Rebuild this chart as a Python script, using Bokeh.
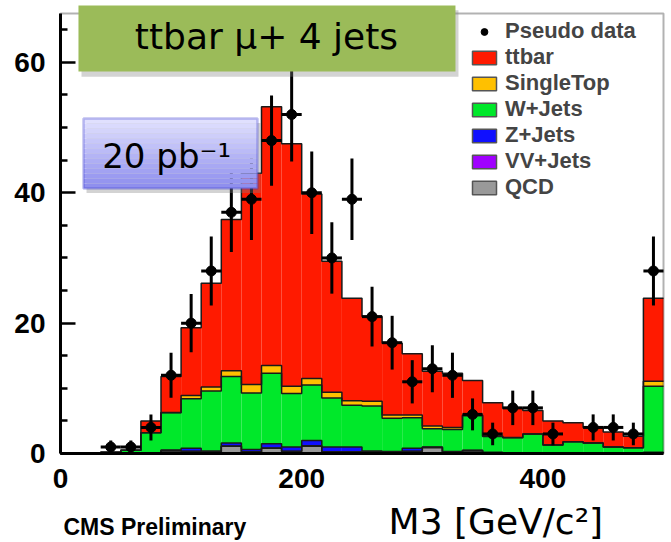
import numpy as np
from bokeh.plotting import figure
from bokeh.models import Range1d, FixedTicker, Legend, LegendItem, BoxAnnotation, Label
from bokeh.embed import file_html
from bokeh.resources import INLINE

# ---- data (30 bins of M3 from 0 to 500 GeV/c^2) ----
x_min, x_max, n_bins = 0.0, 500.0, 30
y_max = 67.5
pseudo_data = [0, 0, 1, 1, 4, 12, 20, 28, 37, 39, 48, 52, 40, 30, 39, 21, 17, 11, 13, 12,
               6, 3, 7, 7, 3, 0, 4, 4, 3, 28]
qcd = [0, 0, 0, 0, 0, 0.4, 0.3, 0.2, 1.1, 0.2, 0.8, 0.3, 1.1, 0.2, 0.2, 0.2, 0.2, 0.3, 0.9, 0.2,
       0.4, 0.1, 0.05, 0.05, 0, 0, 0, 0, 0, 0.1]
vv_jets = [0, 0, 0, 0, 0, 0.05, 0.05, 0.05, 0.05, 0.05, 0.05, 0.05, 0.1, 0.05, 0.05, 0.05, 0.05, 0.05, 0.05, 0.05,
           0.05, 0, 0, 0, 0, 0, 0, 0, 0, 0]
z_jets = [0, 0, 0, 0, 0, 0.1, 0.45, 0.15, 0.45, 0.35, 0.65, 0.65, 0.8, 0.75, 0.75, 0.15, 0.05, 0.45, 0.05, 0.05,
          0.05, 0.1, 0.05, 0.05, 0, 0, 0, 0, 0, 0.1]
w_jets = [0, 0, 0.2, 0.5, 3.2, 5.7, 7.6, 9.2, 10.2, 8.7, 10.8, 8.2, 8.5, 7.5, 6.4, 6.9, 5.1, 4.7, 2.8, 3.4,
          5.3, 2.4, 2.3, 2.9, 1.3, 1.8, 1.6, 1.0, 0.9, 10.1]
single_top = [0, 0, 0, 0, 0, 0.05, 0.5, 0.6, 0.9, 1.3, 1.2, 1.1, 1.0, 0.9, 0.7, 0.7, 0.5, 0.4, 0.4, 0.3,
              0.1, 0.1, 0.05, 0, 0, 0, 0, 0, 0, 0.8]
ttbar = [0, 0, 0, 0, 1.8, 5.5, 10.4, 15.9, 23.2, 32.4, 39.7, 37.2, 28.3, 20.1, 15.7, 13.0, 11.0, 9.4, 8.4, 8.3,
         5.3, 5.1, 4.5, 3.6, 3.7, 2.9, 2.4, 2.3, 1.75, 12.7]
x_ticks = [0, 200, 400]
y_ticks = [0, 20, 40, 60]
y_minor = [5, 10, 15, 25, 30, 35, 45, 50, 55, 65]

layers = [
    ("QCD", qcd, "#999999"),
    ("VV+Jets", vv_jets, "#A000FF"),
    ("Z+Jets", z_jets, "#1010FF"),
    ("W+Jets", w_jets, "#00E82A"),
    ("SingleTop", single_top, "#FFC000"),
    ("ttbar", ttbar, "#FF1A00"),
]

edges = np.linspace(x_min, x_max, n_bins + 1)
lefts, rights = edges[:-1], edges[1:]
centers = 0.5 * (lefts + rights)

# frame covers the whole canvas; axes are pinned at x=0 / y=0
W, H = 671, 542
fx0, fy0 = 60, 453          # pixel position of the data origin
sx = (W - fx0 - 8) / (x_max - x_min)
sy = (fy0 - 13) / y_max
p = figure(width=W, height=H, output_backend="svg", toolbar_location=None,
           x_range=Range1d(-fx0 / sx, (W - fx0) / sx),
           y_range=Range1d(-(H - fy0) / sy, fy0 / sy),
           min_border=0, min_border_left=0, min_border_right=0, min_border_top=0, min_border_bottom=0)
p.background_fill_color = "white"
p.border_fill_color = "white"
p.outline_line_color = None
p.xgrid.grid_line_color = None
p.ygrid.grid_line_color = None

# stacked histogram
bottom = np.zeros(n_bins)
tops = []
for name, vals, col in layers:
    top = bottom + np.array(vals, dtype=float)
    p.quad(left=lefts, right=rights, bottom=bottom, top=top, fill_color=col, line_color=None)
    tops.append(top)
    bottom = top
for top in tops:
    p.step(x=edges, y=np.append(top, top[-1]), mode="after", line_color="#1a1a1a", line_width=1.5)

# pseudo data with errors
d = np.array(pseudo_data, dtype=float)
m = d > 0
err = np.sqrt(d[m])
p.segment(x0=centers[m], x1=centers[m], y0=d[m] - err, y1=d[m] + err, line_color="black", line_width=3)
p.segment(x0=lefts[m], x1=rights[m], y0=d[m], y1=d[m], line_color="black", line_width=3)
r_data = p.scatter(centers[m], d[m], size=10, color="black")

# frame (top / right edges)
p.add_layout(BoxAnnotation(left=x_min, right=x_max, bottom=0, top=y_max,
                           fill_alpha=0, line_color="black", line_width=2))

# axes
p.xaxis.fixed_location = 0
p.yaxis.fixed_location = 0
p.xaxis.bounds = (x_min, x_max)
p.yaxis.bounds = (0, y_max)
for ax in (p.xaxis[0], p.yaxis[0]):
    ax.axis_line_width = 3
    ax.major_label_text_font = "Liberation Sans"
    ax.major_label_text_font_style = "bold"
    ax.major_label_text_font_size = "28px"
    ax.major_label_text_color = "black"
    ax.major_tick_out = 0
    ax.minor_tick_out = 0
    ax.major_label_standoff = 15
p.xaxis.ticker = FixedTicker(ticks=x_ticks)
p.xaxis.major_tick_in = 0
p.xaxis.minor_tick_in = 0
p.yaxis.ticker = FixedTicker(ticks=y_ticks, minor_ticks=y_minor)
p.yaxis.major_tick_in = 15
p.yaxis.minor_tick_in = 7
p.yaxis.major_tick_line_width = 2.5
p.yaxis.minor_tick_line_width = 2.5

# legend
items = [LegendItem(label="Pseudo data", renderers=[r_data])]
for name, vals, col in reversed(layers):
    dummy = p.quad(left=[np.nan], right=[np.nan], top=[np.nan], bottom=[np.nan],
                   fill_color=col, line_color="#555555", line_width=1.5)
    items.append(LegendItem(label=name, renderers=[dummy]))
legend = Legend(items=items, location=(465, 338), margin=0, padding=4, spacing=0,
                glyph_width=30, glyph_height=17, label_standoff=6, label_height=17,
                label_text_font="Liberation Sans", label_text_font_style="bold",
                label_text_font_size="22px",
                border_line_alpha=0, background_fill_alpha=0)
p.add_layout(legend)

# title box
p.add_layout(BoxAnnotation(left=17.4, right=330, bottom=57.8, top=68.0,
                           fill_color="#808080", fill_alpha=0.35, line_alpha=0))
p.add_layout(BoxAnnotation(left=14.9, right=327.5, bottom=58.6, top=68.74,
                           fill_color="#9BBB59", fill_alpha=1, line_alpha=0))
p.add_layout(Label(x=170.8, y=63.9, text="ttbar \u03bc+ 4 jets", text_align="center",
                   text_baseline="middle", text_font="DejaVu Sans", text_font_size="36px",
                   text_color="black"))

# luminosity box (vertical gradient)
bl, br, bb, bt = 19.07, 163.35, 40.66, 51.4
p.add_layout(BoxAnnotation(left=bl + 2.5, right=br + 2.5, bottom=bb - 0.7, top=bt - 0.7,
                           fill_color="#808080", fill_alpha=0.35, line_alpha=0))
n_band = 14
band_edges = np.linspace(bt, bb, n_band + 1)
c_top, c_bot = np.array([228, 228, 255]), np.array([140, 140, 238])
for i in range(n_band):
    f = (i + 0.5) / n_band
    c = (c_top * (1 - f) + c_bot * f).astype(int)
    p.add_layout(BoxAnnotation(left=bl, right=br, bottom=band_edges[i + 1], top=band_edges[i],
                               fill_color="#%02x%02x%02x" % tuple(c), fill_alpha=1, line_alpha=0))
p.add_layout(BoxAnnotation(left=bl, right=br, bottom=bb, top=bt,
                           fill_alpha=0, line_color="#3333CC", line_width=2.5))
p.add_layout(Label(x=88, y=45.7, text="20 pb\u207b\u00b9", text_align="center",
                   text_baseline="middle", text_font="DejaVu Sans", text_font_size="34px",
                   text_color="black"))

# axis title and CMS label
p.add_layout(Label(x=361, y=-10.4, text="M3 [GeV/c\u00b2]", text_align="center",
                   text_baseline="middle", text_font="DejaVu Sans", text_font_size="36px",
                   text_color="black"))
p.add_layout(Label(x=2.5, y=-9.3, text="CMS Preliminary", text_align="left",
                   text_baseline="top", text_font="Liberation Sans", text_font_style="bold",
                   text_font_size="23px", text_color="black"))

open("out.html", "w").write(file_html(p, INLINE))
